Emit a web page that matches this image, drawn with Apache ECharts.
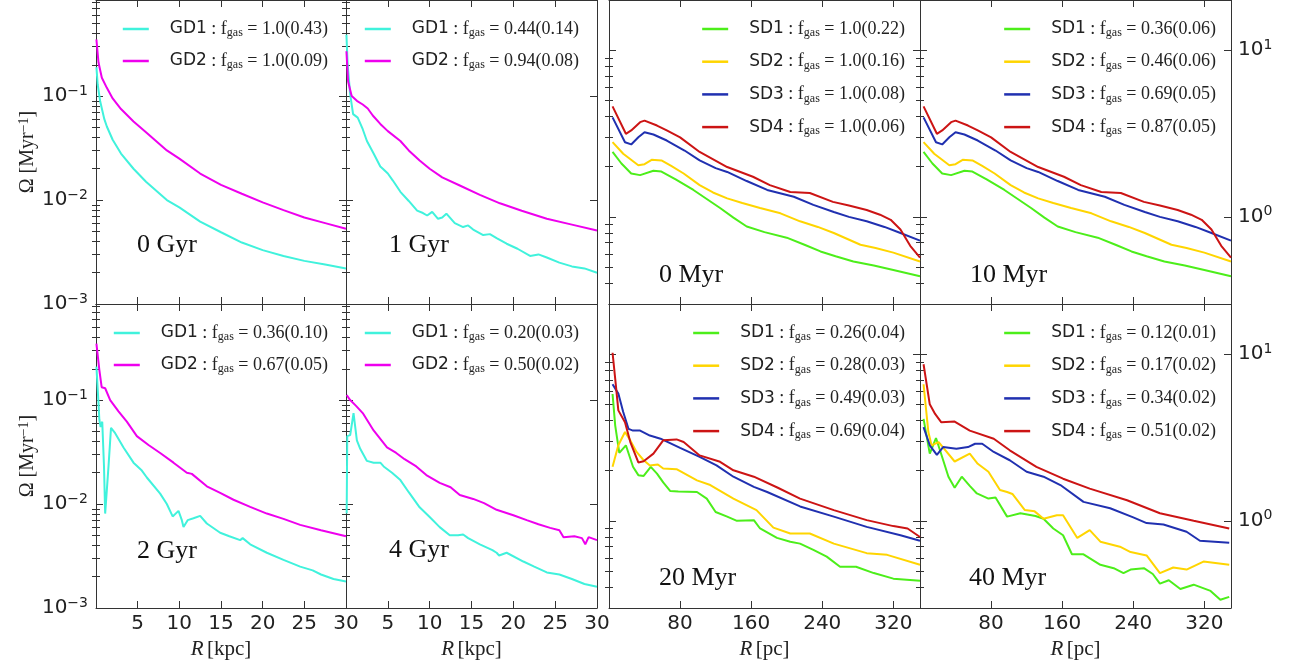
<!DOCTYPE html>
<html><head><meta charset="utf-8">
<script src="https://cdn.jsdelivr.net/npm/echarts@6/dist/echarts.min.js"></script>
<style>html,body{margin:0;padding:0;background:#fff}#c{width:1296px;height:670px}</style>
</head><body><div id="c"></div>
<script>
// ---------------- DATA: R [kpc], Omega [Myr^-1] (galaxy discs) ----------------
const gd1_0gyr = [[0.05,0.19],[0.2,0.13],[0.5,0.089],[1,0.060],[1.3,0.051],[2,0.038],[3,0.028],[4.5,0.020],[6,0.015],[8.5,0.0100],[10,0.0085],[12.5,0.0062],[15,0.0049],[17.5,0.0039],[20,0.0033],[22.5,0.0029],[25,0.0026],[27.5,0.0024],[30,0.0022]];
const gd2_0gyr = [[0.05,0.35],[0.3,0.21],[0.7,0.15],[1.3,0.12],[2,0.095],[3,0.075],[4.5,0.057],[6,0.045],[8.5,0.030],[10,0.025],[12.5,0.018],[15,0.014],[17.5,0.0115],[20,0.0095],[22.5,0.0080],[25,0.0068],[27.5,0.0060],[30,0.0053]];
const gd1_1gyr = [[0.05,0.39],[0.2,0.2],[0.5,0.104],[0.85,0.067],[1.4,0.062],[2,0.048],[2.5,0.037],[3.3,0.028],[4.1,0.021],[4.4,0.020],[5,0.018],[5.6,0.0154],[6.5,0.012],[7.5,0.0098],[8.5,0.0079],[9.2,0.0075],[9.7,0.0071],[10.3,0.0077],[11,0.0066],[11.5,0.0068],[12,0.0074],[13,0.0060],[14,0.0055],[14.6,0.0057],[15.2,0.0052],[16.4,0.0046],[17.2,0.0047],[18,0.0043],[19.2,0.0038],[20.5,0.0034],[22,0.0029],[23,0.0030],[24,0.0028],[25.5,0.0025],[27,0.0023],[28.5,0.0022],[30,0.0020]];
const gd2_1gyr = [[0.05,0.27],[0.25,0.138],[0.68,0.100],[1.3,0.09],[2.0,0.083],[2.6,0.076],[3.2,0.065],[4.1,0.054],[5,0.046],[6.5,0.037],[7.5,0.030],[8.8,0.024],[10,0.020],[11.5,0.0165],[13.6,0.0138],[16,0.0112],[18.4,0.0093],[21,0.0079],[24,0.0066],[27,0.0058],[30,0.0051]];
const gd1_2gyr = [[0.05,0.21],[0.28,0.10],[0.4,0.065],[0.55,0.055],[0.75,0.062],[0.96,0.023],[1.1,0.0081],[1.25,0.008],[1.5,0.023],[1.8,0.054],[2.3,0.048],[3.3,0.035],[4.5,0.025],[5.5,0.021],[6.1,0.018],[7.7,0.0126],[8.5,0.0100],[9.2,0.0076],[9.9,0.0086],[10.3,0.0070],[10.5,0.0060],[11,0.0070],[11.7,0.0073],[12.5,0.0077],[13.3,0.0065],[14.9,0.0053],[16,0.0049],[17.3,0.0045],[17.6,0.0047],[18.5,0.0041],[20.5,0.0034],[22.5,0.0029],[24.5,0.0025],[26,0.0023],[27,0.0021],[28.5,0.0019],[30,0.0018]];
const gd2_2gyr = [[0.05,0.35],[0.4,0.195],[0.68,0.133],[1.1,0.13],[1.7,0.10],[2.7,0.078],[3.7,0.062],[4.9,0.045],[6.3,0.037],[7.7,0.031],[9.3,0.025],[10.9,0.020],[11.5,0.0195],[13.3,0.0148],[14.9,0.0128],[16.5,0.011],[18.5,0.0094],[20.5,0.0081],[22.5,0.0072],[24.5,0.0063],[27,0.0056],[30,0.0049]];
const gd1_4gyr = [[0.08,0.0081],[0.15,0.045],[0.5,0.046],[0.9,0.075],[1.3,0.041],[1.7,0.034],[2.5,0.026],[3.3,0.025],[4.1,0.025],[4.5,0.023],[5.5,0.020],[6.5,0.017],[7.5,0.013],[8.8,0.0093],[10,0.0075],[11.2,0.0060],[12.4,0.0050],[13.4,0.0050],[14,0.0051],[14.6,0.0047],[16,0.0041],[17.5,0.0036],[18,0.0034],[18.3,0.0032],[19.2,0.0034],[21.2,0.0028],[22.5,0.0025],[24,0.0022],[25.5,0.0021],[27,0.0019],[28.5,0.0017],[30,0.0016]];
const gd2_4gyr = [[0.08,0.112],[0.5,0.10],[1.2,0.088],[2.0,0.075],[3.3,0.051],[4.9,0.035],[6,0.031],[7,0.027],[8.4,0.023],[9.6,0.019],[11.2,0.016],[12.5,0.0145],[13.6,0.0122],[15.2,0.0112],[16.5,0.0102],[18,0.0088],[20,0.0078],[21.6,0.0070],[23,0.0064],[24.4,0.0059],[25.5,0.0056],[26,0.0048],[27.3,0.0049],[28.2,0.0047],[28.6,0.0041],[29,0.0048],[30,0.0045]];

// ---------------- DATA: R [pc], Omega [Myr^-1] (small discs) ----------------
const sd1_0myr = [[4,2.45],[14,2.09],[25,1.82],[35,1.78],[50,1.89],[59,1.87],[75,1.68],[95,1.45],[110,1.28],[125,1.13],[140,0.99],[155,0.875],[175,0.81],[200,0.75],[220,0.68],[238,0.62],[255,0.58],[275,0.54],[298,0.51],[320,0.48],[350,0.44]];
const sd2_0myr = [[4,2.81],[16,2.39],[33,2.04],[40,2.07],[48,2.2],[59,2.18],[70,2.02],[84,1.82],[102,1.55],[117,1.40],[133,1.29],[150,1.21],[170,1.13],[193,1.05],[215,0.94],[235,0.87],[253,0.80],[283,0.68],[300,0.65],[320,0.61],[350,0.54]];
const sd3_0myr = [[4,3.95],[18,2.8],[25,2.72],[33,3.0],[40,3.22],[50,3.12],[65,2.87],[85,2.5],[102,2.18],[120,1.96],[133,1.86],[155,1.64],[178,1.45],[208,1.32],[230,1.18],[253,1.07],[270,1.0],[290,0.94],[310,0.87],[328,0.80],[350,0.72]];
const sd4_0myr = [[4,4.6],[19,3.15],[25,3.3],[35,3.7],[40,3.78],[54,3.53],[65,3.3],[80,3.0],[102,2.45],[133,1.99],[162,1.74],[181,1.55],[204,1.41],[226,1.39],[252,1.23],[270,1.17],[290,1.10],[305,1.03],[317,0.96],[328,0.84],[339,0.67],[350,0.57]];
const sd1_10myr = [[4,2.45],[14,2.09],[25,1.82],[35,1.78],[50,1.89],[59,1.87],[75,1.68],[95,1.45],[110,1.28],[125,1.13],[140,0.99],[155,0.875],[175,0.81],[200,0.75],[220,0.68],[238,0.62],[255,0.58],[275,0.54],[298,0.51],[320,0.48],[350,0.44]];
const sd2_10myr = [[4,2.81],[16,2.39],[33,2.04],[40,2.07],[48,2.2],[59,2.18],[70,2.02],[84,1.82],[102,1.55],[117,1.40],[133,1.29],[150,1.21],[170,1.13],[193,1.05],[215,0.94],[235,0.87],[253,0.80],[283,0.68],[300,0.65],[320,0.61],[350,0.54]];
const sd3_10myr = [[4,3.95],[18,2.8],[25,2.72],[33,3.0],[40,3.22],[50,3.12],[65,2.87],[85,2.5],[102,2.18],[120,1.96],[133,1.86],[155,1.64],[178,1.45],[208,1.32],[230,1.18],[253,1.07],[270,1.0],[290,0.94],[310,0.87],[328,0.80],[350,0.72]];
const sd4_10myr = [[4,4.6],[19,3.15],[25,3.3],[35,3.7],[40,3.78],[54,3.53],[65,3.3],[80,3.0],[102,2.45],[133,1.99],[162,1.74],[181,1.55],[204,1.41],[226,1.39],[252,1.23],[270,1.17],[290,1.10],[305,1.03],[317,0.96],[328,0.84],[339,0.67],[350,0.57]];
const sd1_20myr = [[4,5.77],[7,3.73],[11.6,2.56],[19,2.84],[27,2.11],[33,1.88],[39,1.86],[47,2.11],[54,1.92],[61,1.70],[69,1.51],[78,1.50],[99,1.49],[110,1.36],[120,1.13],[133,1.06],[144,1.0],[163,1.01],[170,0.90],[189,0.79],[204,0.75],[215,0.73],[230,0.67],[245,0.61],[260,0.53],[268,0.53],[278,0.53],[298,0.486],[320,0.45],[350,0.437]];
const sd2_20myr = [[4,2.11],[10.5,2.84],[18,3.41],[24,3.04],[31,2.59],[39,2.31],[46,2.15],[55,2.18],[61,2.06],[76,2.04],[99,1.75],[114,1.64],[140,1.36],[166,1.16],[185,0.91],[204,0.84],[226,0.84],[253,0.73],[290,0.64],[313,0.625],[350,0.545]];
const sd3_20myr = [[4,6.6],[10.5,5.8],[16,4.5],[22,3.56],[27,3.48],[35,3.48],[46,3.25],[58,3.11],[80,2.74],[102,2.42],[121,2.15],[140,1.84],[163,1.60],[178,1.49],[215,1.22],[253,1.06],[290,0.92],[328,0.82],[350,0.76]];
const sd4_20myr = [[4,10.2],[7,7.1],[10.5,4.6],[18,3.9],[24,2.97],[33,2.24],[39,2.28],[50,2.53],[61,3.04],[76,3.08],[84,2.97],[102,2.47],[125,2.26],[140,2.01],[163,1.84],[190,1.58],[215,1.36],[253,1.16],[290,1.01],[320,0.93],[336,0.90],[350,0.80]];
const sd1_40myr = [[4,4.09],[11,2.53],[18,3.14],[22.5,2.65],[32,1.84],[39,1.58],[47,1.84],[56,1.62],[64,1.46],[77,1.36],[85,1.38],[98,1.06],[113,1.11],[130,1.07],[139,1.03],[150,0.90],[161,0.82],[171,0.63],[184,0.63],[203,0.545],[218,0.52],[229,0.486],[237,0.51],[252,0.52],[262,0.48],[270,0.42],[280,0.44],[293,0.39],[308,0.414],[327,0.38],[338,0.336],[348,0.35]];
const sd2_40myr = [[4,6.6],[9.4,3.41],[13,2.84],[21,2.97],[39,2.27],[56,2.53],[65,2.2],[77,1.97],[90,1.53],[98,1.49],[104,1.45],[118,1.16],[129,1.14],[139,1.03],[154,1.08],[161,1.08],[177,0.79],[191,0.88],[203,0.75],[225,0.70],[237,0.65],[255,0.62],[270,0.486],[285,0.525],[300,0.51],[319,0.57],[348,0.545]];
const sd3_40myr = [[4,3.65],[11,2.84],[19,2.49],[26,2.77],[41,2.71],[54,2.77],[62,2.9],[70,2.9],[83,2.59],[101,2.31],[120,1.97],[139,1.84],[158,1.64],[184,1.30],[214,1.19],[240,1.05],[255,0.97],[274,0.95],[300,0.86],[315,0.76],[348,0.74]];
const sd4_40myr = [[4,8.7],[11,5.0],[17,4.38],[24,3.9],[39,3.94],[56,3.48],[83,3.11],[101,2.65],[131,2.11],[161,1.79],[191,1.56],[233,1.33],[270,1.11],[308,1.0],[348,0.90]];

// ---------------- labels ----------------
const gdNames = ['GD1','GD2'];
const sdNames = ['SD1','SD2','SD3','SD4'];
const fgas_0gyr = ['1.0(0.43)','1.0(0.09)'];
const fgas_1gyr = ['0.44(0.14)','0.94(0.08)'];
const fgas_2gyr = ['0.36(0.10)','0.67(0.05)'];
const fgas_4gyr = ['0.20(0.03)','0.50(0.02)'];
const fgas_0myr = ['1.0(0.22)','1.0(0.16)','1.0(0.08)','1.0(0.06)'];
const fgas_10myr = ['0.36(0.06)','0.46(0.06)','0.69(0.05)','0.87(0.05)'];
const fgas_20myr = ['0.26(0.04)','0.28(0.03)','0.49(0.03)','0.69(0.04)'];
const fgas_40myr = ['0.12(0.01)','0.17(0.02)','0.34(0.02)','0.51(0.02)'];
const panelLabels = ['0 Gyr','1 Gyr','0 Myr','10 Myr','2 Gyr','4 Gyr','20 Myr','40 Myr'];

// ---------------- styles / layout ----------------
const gdColors = ['#40F2DC','#EE00EE'];
const sdColors = ['#4CEE1A','#FFD500','#2030B0','#CC1414'];
const cols = [{left:96,width:250},{left:346,width:251},{left:609,width:311},{left:920,width:311}];
const rows = [{top:0,height:304},{top:304,height:304}];
const W = 1296;
const AX = '#333';
const SANS = 'DejaVu Sans', SERIF = 'Liberation Serif';

const panels = [
  {col:0,row:0,kind:'gd',series:[gd1_0gyr,gd2_0gyr],fgas:fgas_0gyr},
  {col:1,row:0,kind:'gd',series:[gd1_1gyr,gd2_1gyr],fgas:fgas_1gyr},
  {col:2,row:0,kind:'sd',series:[sd1_0myr,sd2_0myr,sd3_0myr,sd4_0myr],fgas:fgas_0myr},
  {col:3,row:0,kind:'sd',series:[sd1_10myr,sd2_10myr,sd3_10myr,sd4_10myr],fgas:fgas_10myr},
  {col:0,row:1,kind:'gd',series:[gd1_2gyr,gd2_2gyr],fgas:fgas_2gyr},
  {col:1,row:1,kind:'gd',series:[gd1_4gyr,gd2_4gyr],fgas:fgas_4gyr},
  {col:2,row:1,kind:'sd',series:[sd1_20myr,sd2_20myr,sd3_20myr,sd4_20myr],fgas:fgas_20myr},
  {col:3,row:1,kind:'sd',series:[sd1_40myr,sd2_40myr,sd3_40myr,sd4_40myr],fgas:fgas_40myr}
];
const labelPos = [[137,232],[389,232],[659,262],[970,262],[137,538],[389,537],[659,565],[969,565]];

function minorLogs(lo, hi) {
  const out = [];
  const a = Math.floor(Math.log10(lo)), b = Math.ceil(Math.log10(hi));
  for (let d = a; d <= b; d++) for (let k = 2; k <= 9; k++) {
    const v = Math.log10(k) + d;
    if (v > Math.log10(lo) && v < Math.log10(hi)) out.push(v);
  }
  return out;
}
const supRich = {
  b:{fontFamily:SANS,fontSize:20,color:'#222',lineHeight:24},
  e:{fontFamily:SANS,fontSize:14,color:'#222',lineHeight:10,verticalAlign:'top'}
};
function logFmt(v) {
  const l = Math.log10(v), e = Math.round(l);
  if (Math.abs(l - e) > 1e-6) return '';
  return '{b|10}{e|' + (e < 0 ? '\u2212' + (-e) : e) + '}';
}

const grid = [], xAxis = [], yAxis = [], series = [], legend = [], title = [];
panels.forEach((p, i) => {
  const c = cols[p.col], r = rows[p.row];
  const gd = p.kind === 'gd';
  const xr = gd ? [0, 30, 5] : [0, 350, 80];
  const yr = gd ? [0.001, 0.84] : [0.3, 20];
  const names = gd ? gdNames : sdNames;
  const colors = gd ? gdColors : sdColors;
  grid.push({left:c.left, top:r.top, width:c.width, height:r.height, show:false});
  const showX = p.row === 1;
  const tickStyle = {color:AX, width:1};
  xAxis.push({
    type:'value', gridIndex:i, min:xr[0], max:xr[1], interval:xr[2], position:'bottom',
    axisLine:{show:true, onZero:false, lineStyle:{color:AX, width:1}},
    axisTick:{show:true, inside:true, length:7, lineStyle:tickStyle},
    splitLine:{show:false},
    axisLabel:{show:showX, showMinLabel:false, margin:6, fontFamily:SANS, fontSize:20, color:'#222',
      formatter: v => (v % xr[2] === 0 ? String(v) : '')},
    name: showX ? '{i|R} {a|[' + (gd ? 'kpc' : 'pc') + ']}' : '',
    nameLocation:'middle', nameGap:31,
    nameTextStyle:{rich:{i:{fontFamily:SERIF,fontStyle:'italic',fontSize:21,color:'#222'},a:{fontFamily:SERIF,fontSize:21,color:'#222'}}}
  });
  xAxis.push({
    type:'value', gridIndex:i, min:xr[0], max:xr[1], interval:xr[2], position:'top',
    axisLine:{show:true, onZero:false, lineStyle:{color:AX, width:1}},
    axisTick:{show:true, inside:true, length:7, lineStyle:tickStyle},
    splitLine:{show:false}, axisLabel:{show:false}
  });
  const base = yAxis.length;
  yAxis.push({
    type:'log', logBase:10, gridIndex:i, min:yr[0], max:yr[1], position:'left',
    axisLine:{show:true, onZero:false, lineStyle:{color:AX, width:1}},
    axisTick:{show:true, inside:true, length:7, lineStyle:tickStyle},
    splitLine:{show:false}, minorTick:{show:false},
    axisLabel:{show:p.col === 0, margin:8, formatter:logFmt, rich:supRich},
    name: p.col === 0 ? '{a|\u03A9 [Myr}{e|\u22121}{a|]}' : '',
    nameLocation:'middle', nameGap:56,
    nameTextStyle:{rich:{a:{fontFamily:SERIF,fontSize:20,color:'#222',lineHeight:22},e:{fontFamily:SERIF,fontSize:14,color:'#222',lineHeight:10,verticalAlign:'top'}}}
  });
  yAxis.push({
    type:'log', logBase:10, gridIndex:i, min:yr[0], max:yr[1], position:'right',
    axisLine:{show:true, onZero:false, lineStyle:{color:AX, width:1}},
    axisTick:{show:true, inside:true, length:7, lineStyle:tickStyle},
    splitLine:{show:false}, minorTick:{show:false},
    axisLabel:{show:p.col === 3, margin:7, formatter:logFmt, rich:supRich}
  });
  const mins = minorLogs(yr[0], yr[1]);
  ['left','right'].forEach(pos => yAxis.push({
    type:'value', gridIndex:i, min:Math.log10(yr[0]), max:Math.log10(yr[1]), position:pos,
    axisLine:{show:false}, splitLine:{show:false}, axisLabel:{show:false},
    axisTick:{show:true, inside:true, length:4, lineStyle:tickStyle, customValues:mins}
  }));
  names.forEach((n, k) => series.push({
    type:'line', name:n, xAxisIndex:2 * i, yAxisIndex:base, data:p.series[k],
    symbol:'none', showSymbol:false, smooth:false, clip:true, animation:false,
    lineStyle:{color:colors[k], width:2}, itemStyle:{color:colors[k]}, z:2 + k
  }));
  const inset = gd ? 18 : 15;
  const fg = p.fgas;
  legend.push({
    orient:'vertical', right: W - (c.left + c.width) + inset, top: r.top + 27 - 10 + 3,
    padding:0, itemGap: gd ? 13 : 13.7, itemWidth:26, itemHeight:2.5, icon:'rect', selectedMode:false,
    data: names.map(n => ({name:n, icon:'rect'})),
    formatter: name => '{s|' + name + '}{m| : f}{u|gas}{m| = ' + fg[names.indexOf(name)] + '}',
    textStyle:{color:'#222', rich:{
      s:{fontFamily:SANS,fontSize:17,color:'#222',lineHeight:20,padding:[0,0,0,16]},
      m:{fontFamily:SERIF,fontSize:18,color:'#222',lineHeight:20},
      u:{fontFamily:SERIF,fontSize:12,color:'#222',lineHeight:8,verticalAlign:'bottom'}
    }}
  });
  title.push({
    text: panelLabels[i], left: labelPos[i][0], top: labelPos[i][1], padding:0,
    textStyle:{fontFamily:SERIF, fontSize:26, fontWeight:'normal', color:'#111'}
  });
});

const chart = echarts.init(document.getElementById('c'), null, {renderer:'canvas'});
chart.setOption({animation:false, backgroundColor:'#fff', grid, xAxis, yAxis, series, legend, title});
</script></body></html>
